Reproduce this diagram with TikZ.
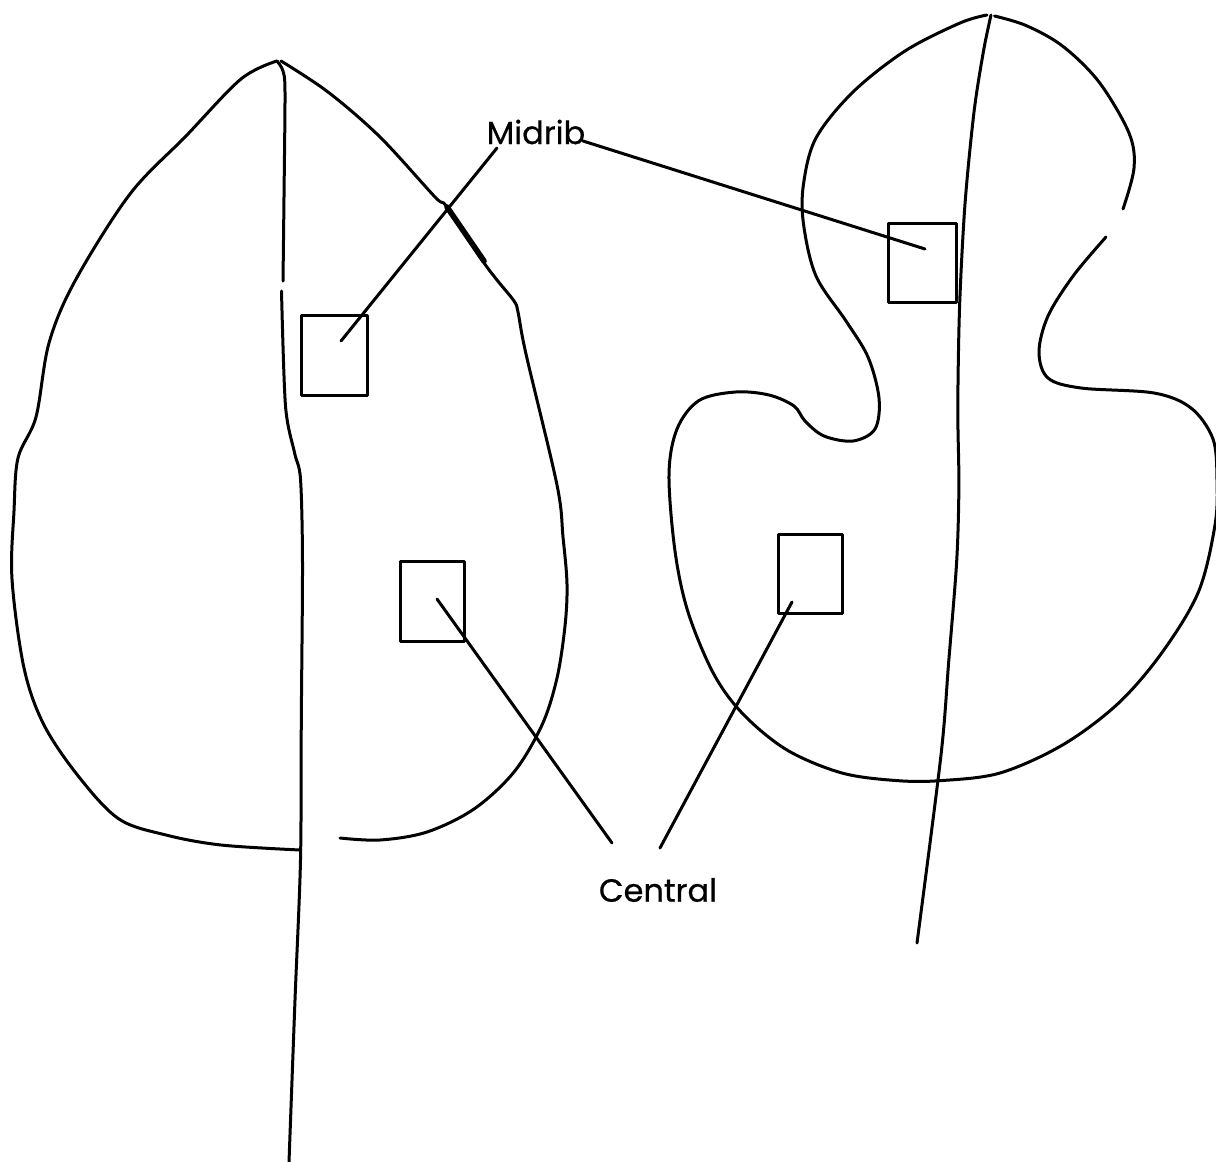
\documentclass[tikz,border=0pt]{standalone}
\usepackage{fontspec}
\setmainfont{Poppins}[FakeBold=0.6]
\begin{document}
\begin{tikzpicture}[x=0.5pt,y=-0.5pt,line join=round,line cap=round,
  edge/.style={line width=1.5pt},
  vein/.style={line width=1.5pt},
  sample/.style={draw,rectangle,line width=1.5pt,inner sep=0pt},
  pointer/.style={line width=1.5pt},
  lbl/.style={font=\fontsize{16pt}{18pt}\selectfont,inner sep=0pt}]
\useasboundingbox (0,0) rectangle (1216,1162);

% ---- ovate leaf (left) ----
\draw[edge] plot[smooth,tension=0.55] coordinates {
  (277,61) (241,79) (186,136) (130,194) (75,281) (49,343) (36,417) (18,458)
  (14,511) (12,579) (24,668) (44,725) (79,777) (119,819) (166,835) (221,845) (300,850)};
\draw[edge] plot[smooth,tension=0.55] coordinates {
  (281,61) (328,92) (380,137) (435,197) (447,207) (482,260) (497,280) (514,301)
  (518,312) (526,354) (557,485) (563,537) (567,584) (565,626) (557,678) (542,725)
  (514,772) (474,809) (427,832) (380,840) (340,838)};
\draw[line width=2.8pt] (447,207) -- (484,261);
% midrib and stalk
\draw[vein] plot[smooth,tension=0.5] coordinates {
  (277,61) (283,71) (285,92) (284,197) (283,281)};
\draw[vein] plot[smooth,tension=0.5] coordinates {
  (281.5,291) (285.5,406) (294.6,453) (300.5,479) (302.5,563) (301.3,720)
  (300.5,860) (295,1000) (289,1162)};

% ---- lobed leaf (right) ----
\draw[edge] plot[smooth,tension=0.55] coordinates {
  (987,15) (960,23) (905,51) (853,92) (816,138) (803.5,184) (803.5,224) (816,276)
  (846,321) (868,357) (879,398) (875,429) (853,441) (824,436) (805,421) (794,406)
  (769,395) (735.5,392) (699,400.5) (677,429) (669,474.5) (675,551) (688,612)
  (713.5,673.5) (743,714) (787,750) (842,773) (897,780.6) (941,780.6) (1000,773)
  (1062.5,745) (1117.6,704) (1161.7,653) (1198.4,592) (1215,525) (1217,480)
  (1213,439) (1191,408) (1154,393) (1081,388) (1048,378) (1039,352) (1048,316)
  (1073.5,275.5) (1106,237)};
\draw[edge] plot[smooth,tension=0.55] coordinates {
  (1123,209) (1134,168) (1129,133) (1099,82) (1062.5,46) (1026,25.5) (994.5,16)};
% midrib and stalk
\draw[vein] plot[smooth,tension=0.5] coordinates {
  (991,15) (983.5,51) (974,112) (965,204) (959.6,306) (957.8,408) (958.9,485)
  (956.7,561) (948.6,663) (941,755) (917,943)};

% ---- sampling squares ----
\node[sample,minimum width=33pt,minimum height=40pt] (midL) at (334.5,355) {};
\node[sample,minimum width=32pt,minimum height=40pt] (cenL) at (432.4,601.5) {};
\node[sample,minimum width=34pt,minimum height=39.5pt] (midR) at (922,262.5) {};
\node[sample,minimum width=32pt,minimum height=39.5pt] (cenR) at (810,574) {};

% ---- labels ----
\node[lbl] (midrib) at (536,132) {Midrib};
\node[lbl] (central) at (658,890) {Central};

% pointer ends
\coordinate (midribA) at (497,148);
\coordinate (midribB) at (583,141);
\coordinate (centralA) at (612,843);
\coordinate (centralB) at (660,848);
\coordinate (inMidL) at (341,341);
\coordinate (inMidR) at (925,249);
\coordinate (inCenL) at (437,599);
\coordinate (inCenR) at (792,602);

\draw[pointer] (midribA) -- (inMidL);
\draw[pointer] (midribB) -- (inMidR);
\draw[pointer] (centralA) -- (inCenL);
\draw[pointer] (centralB) -- (inCenR);
\end{tikzpicture}
\end{document}
